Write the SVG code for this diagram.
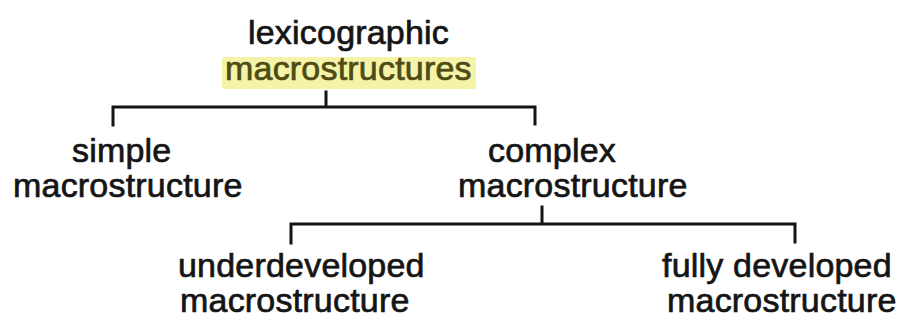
<svg xmlns="http://www.w3.org/2000/svg" width="900" height="324" viewBox="0 0 900 324">
  <style>
    .lbl { font-family: "Liberation Sans", Arial, sans-serif; font-size: 34px; fill: #151515; stroke: #151515; stroke-width: 0.7px; letter-spacing: 0.2px; }
    .hl { fill: #4e4b14; stroke: #4e4b14; }
    .mark { fill: #f4f3a8; }
    .edge { fill: none; stroke: #151515; stroke-width: 3; stroke-linecap: square; stroke-linejoin: miter; }
  </style>
  <rect width="900" height="324" fill="#ffffff"/>

  <g id="root">
    <rect class="mark" x="222" y="57" width="254" height="32" rx="2"/>
    <text class="lbl" x="248" y="44">lexicographic</text>
    <text class="lbl hl" x="225" y="80">macrostructures</text>
  </g>

  <g id="simple">
    <text class="lbl" x="72" y="162">simple</text>
    <text class="lbl" x="13" y="197">macrostructure</text>
  </g>

  <g id="complex">
    <text class="lbl" x="488" y="162">complex</text>
    <text class="lbl" x="458" y="197">macrostructure</text>
  </g>

  <g id="underdeveloped">
    <text class="lbl" x="178" y="277">underdeveloped</text>
    <text class="lbl" x="180" y="312">macrostructure</text>
  </g>

  <g id="fully-developed">
    <text class="lbl" x="662" y="277">fully developed</text>
    <text class="lbl" x="667" y="312">macrostructure</text>
  </g>

  <g id="connectors">
    <path class="edge" d="M326 92 V107 M113 125 V107 H535 V124"/>
    <path class="edge" d="M542 207 V224 M291 243 V224 H795 V242"/>
  </g>
</svg>
